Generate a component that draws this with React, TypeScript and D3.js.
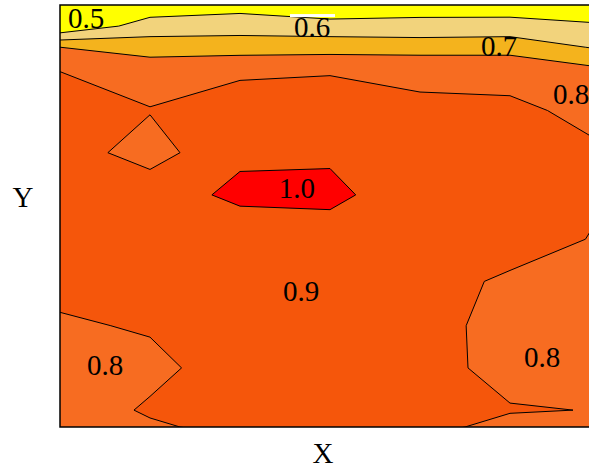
import React, { useMemo } from 'react';
import * as d3 from 'd3';

// grid: columns along X, rows along Y (top to bottom)
const xs = [0, 1, 2, 3, 4, 5, 6];
const ys = [10, 9.5, 9, 8.55, 7.5, 6.5, 5.5, 4.45, 3.45, 2.4, 1.4, 0.4, 0];

const row0 = [0.45, 0.48, 0.51, 0.45, 0.54, 0.49, 0.49];
const row1 = [0.456, 0.6, 0.61, 0.6, 0.557, 0.594, 0.56];
const row2 = [0.75, 0.7, 0.7, 0.7, 0.728, 0.706, 0.639];
const row3 = [0.843, 0.795, 0.817, 0.831, 0.78, 0.81, 0.745];
const row4 = [0.9, 0.855, 0.92, 0.92, 0.9, 0.87, 0.822];
const row5 = [0.9, 0.806, 0.938, 0.938, 0.92, 0.9, 0.86];
const row6 = [0.9, 0.917, 0.965, 0.97, 0.9, 0.91, 0.86];
const row7 = [0.9, 0.91, 0.906, 0.91, 0.91, 0.907, 0.839];
const row8 = [0.88, 0.9, 0.91, 0.91, 0.9, 0.83, 0.8];
const row9 = [0.837, 0.86, 0.91, 0.91, 0.89, 0.812, 0.8];
const row10 = [0.8, 0.823, 0.9, 0.91, 0.89, 0.815, 0.81];
const row11 = [0.79, 0.863, 0.89, 0.9, 0.88, 0.857, 0.847];
const row12 = [0.79, 0.835, 0.88, 0.9, 0.88, 0.82, 0.81];
const rows = [row0, row1, row2, row3, row4, row5, row6, row7, row8, row9, row10, row11, row12];

const thresholds = [0.55, 0.65, 0.75, 0.85, 0.95];
const bandColors = ['#ffff00', '#f2d37c', '#f4b31d', '#f76c21', '#f5560b', '#ff0000'];

const labels = [
  { text: '0.5', x: 0.29, y: 9.455 },
  { text: '0.6', x: 2.8, y: 9.24 },
  { text: '0.7', x: 4.878, y: 8.79 },
  { text: '0.8', x: 5.678, y: 7.65 },
  { text: '1.0', x: 2.633, y: 5.43 },
  { text: '0.9', x: 2.678, y: 2.99 },
  { text: '0.8', x: 0.5, y: 1.23 },
  { text: '0.8', x: 5.356, y: 1.42 },
];

const W = 589;
const H = 468;
const margin = { top: 5, left: 60, right: -11, bottom: 41 };
const font = '"Liberation Serif", "Times New Roman", serif';

export default function App() {
  const x = d3.scaleLinear().domain([0, 6]).range([margin.left, W - margin.right]);
  const y = d3.scaleLinear().domain([0, 10]).range([H - margin.bottom, margin.top]);

  const paths = useMemo(() => {
    const n = xs.length;
    const m = ys.length;
    const values = rows.flat();
    // grid index -> data coordinate (samples sit at index + 0.5 in d3-contour)
    const ix = d3.scaleLinear().domain(xs.map((_, i) => i)).range(xs);
    const iy = d3.scaleLinear().domain(ys.map((_, j) => j)).range(ys);
    const proj = d3.geoTransform({
      point(px, py) {
        this.stream.point(x(ix(px - 0.5)), y(iy(py - 0.5)));
      },
    });
    const path = d3.geoPath(proj);
    const cs = d3.contours().size([n, m]).thresholds(thresholds)(values);
    return cs.map((c) => path(c) || '');
  }, []);

  const x0 = x(0);
  const x1 = x(6);
  const yTop = y(10);
  const yBot = y(0);
  const gap = labels[1];

  return (
    <svg width={W} height={H} style={{ position: 'absolute', left: 0, top: 0, background: '#fff' }}>
      <defs>
        <clipPath id="plot">
          <rect x={x0} y={yTop} width={x1 - x0} height={yBot - yTop} />
        </clipPath>
      </defs>
      <g clipPath="url(#plot)">
        <rect x={x0} y={yTop} width={x1 - x0} height={yBot - yTop} fill={bandColors[0]} />
        {paths.map((d, i) => (
          <path key={'f' + i} d={d} fill={bandColors[i + 1]} stroke="none" />
        ))}
        {paths.map((d, i) => (
          <path key={'s' + i} d={d} fill="none" stroke="#000" strokeWidth={1} />
        ))}
        {/* inline label gap */}
        <rect x={x(gap.x) - 22} y={y(gap.y) - 23} width={45} height={3} fill="#fff" />
      </g>
      <path
        d={`M${x1},${yTop}H${x0}V${yBot}H${x1}`}
        fill="none"
        stroke="#000"
        strokeWidth={1.5}
      />
      {labels.map((l, i) => (
        <text
          key={i}
          x={x(l.x)}
          y={y(l.y)}
          textAnchor="middle"
          fontFamily={font}
          fontSize={29}
          fill="#000"
        >
          {l.text}
        </text>
      ))}
      <text x={(x0 + 586) / 2} y={463} textAnchor="middle" fontFamily={font} fontSize={29}>
        X
      </text>
      <text x={23} y={207} textAnchor="middle" fontFamily={font} fontSize={29}>
        Y
      </text>
    </svg>
  );
}
